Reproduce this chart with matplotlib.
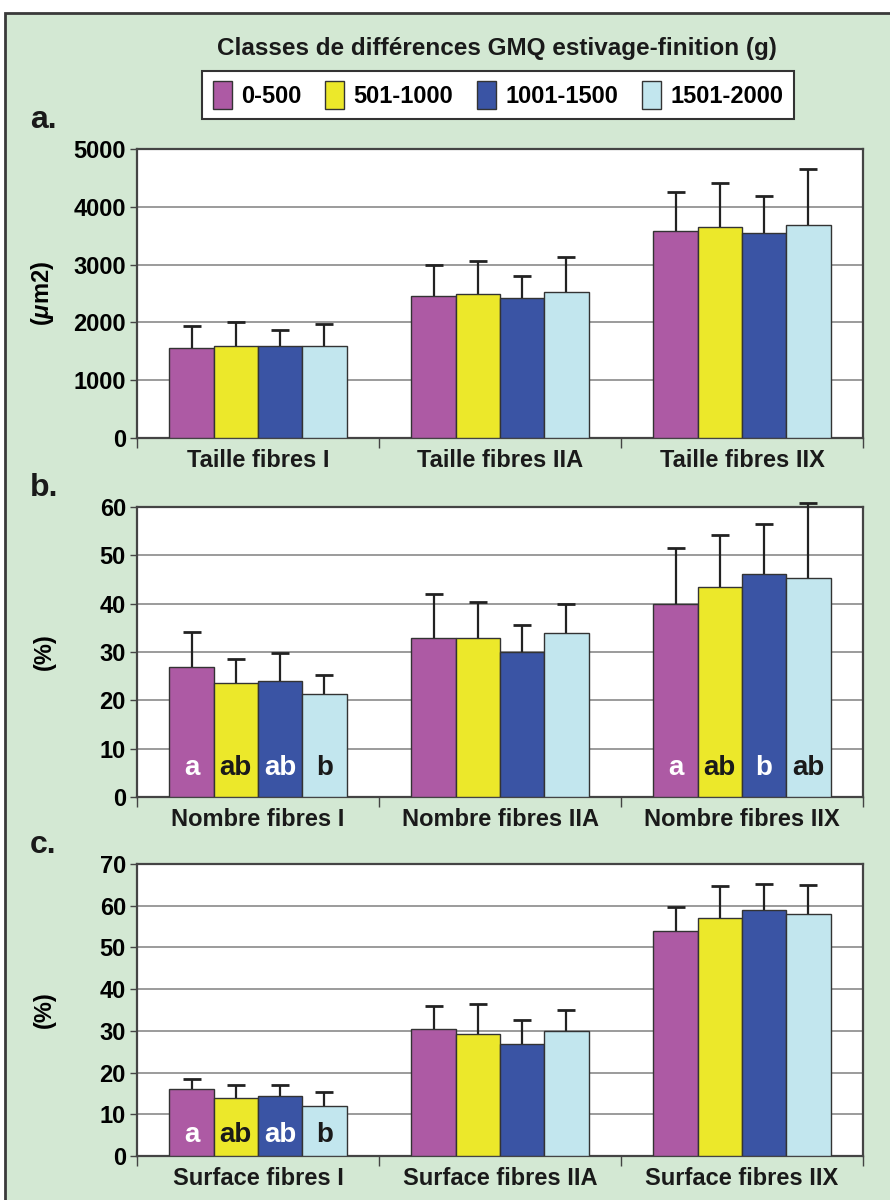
import numpy as np
import matplotlib.pyplot as plt
from matplotlib.patches import Rectangle, Patch

plt.rcParams['font.family'] = ['Liberation Sans', 'DejaVu Sans']
plt.rcParams['font.weight'] = 'bold'
plt.rcParams['mathtext.fontset'] = 'custom'
plt.rcParams['mathtext.it'] = 'Liberation Sans:italic:bold'

classes = ['0-500', '501-1000', '1001-1500', '1501-2000']
colors = ['#AD5AA4', '#ECE82A', '#3A54A4', '#C2E6EE']

# panel a: fibre size (um2)
taille_labels = ['Taille fibres I', 'Taille fibres IIA', 'Taille fibres IIX']
taille_mean = [[1560, 2460, 3580], [1600, 2500, 3650], [1600, 2420, 3540], [1600, 2530, 3690]]
taille_sd = [[370, 530, 670], [410, 560, 760], [260, 380, 640], [370, 610, 970]]

# panel b: fibre number (%)
nombre_labels = ['Nombre fibres I', 'Nombre fibres IIA', 'Nombre fibres IIX']
nombre_mean = [[27.0, 33.0, 40.0], [23.5, 33.0, 43.5], [24.0, 30.0, 46.2], [21.3, 34.0, 45.3]]
nombre_sd = [[7.2, 9.1, 11.6], [5.0, 7.4, 10.7], [5.8, 5.6, 10.2], [4.0, 6.0, 15.5]]
nombre_letters = [['a', '', 'a'], ['ab', '', 'ab'], ['ab', '', 'b'], ['b', '', 'ab']]

# panel c: fibre surface (%)
surface_labels = ['Surface fibres I', 'Surface fibres IIA', 'Surface fibres IIX']
surface_mean = [[16.0, 30.4, 54.0], [14.0, 29.3, 57.0], [14.5, 26.8, 59.0], [12.0, 30.0, 58.1]]
surface_sd = [[2.5, 5.6, 5.6], [3.0, 7.2, 7.8], [2.5, 5.7, 6.2], [3.4, 5.0, 6.8]]
surface_letters = [['a', '', ''], ['ab', '', ''], ['ab', '', ''], ['b', '', '']]

letter_colors = ['white', '#1a1a1a', 'white', '#1a1a1a']

W, H = 890, 1200
fig = plt.figure(figsize=(W / 100, H / 100), dpi=100)
fig.patch.set_facecolor('white')
fig.patches.append(Rectangle((5 / W, -0.01), 1.0, 1 - 13 / H + 0.01, transform=fig.transFigure,
                             facecolor='#D3E8D3', edgecolor='#3a3a3a', lw=2, zorder=-5))


def px_axes(left, top, right, bottom):
    return fig.add_axes([left / W, 1 - bottom / H, (right - left) / W, (bottom - top) / H])


def draw_panel(ax, labels, means, sds, ymax, ystep, ylabel, letters=None, letter_y=None):
    x = np.arange(len(labels))
    w = 0.183
    for i in range(4):
        xs = x + (i - 1.5) * w
        tops = np.array(means[i]) + np.array(sds[i])
        ax.bar(xs, means[i], width=w, color=colors[i], edgecolor='#333333', lw=1, zorder=3)
        # upper half of the error bar only, with a cap
        ax.vlines(xs, means[i], tops, color='#222222', lw=1.6, zorder=4, clip_on=False)
        ax.plot(xs, tops, ls='none', marker='_', ms=13, mew=2, color='#222222', zorder=4,
                clip_on=False)
        if letters:
            for j, t in enumerate(letters[i]):
                if t:
                    ax.text(xs[j], letter_y, t, ha='center', va='center', fontsize=20,
                            fontweight='bold', color=letter_colors[i], zorder=5)
    ax.set_xlim(-0.5, len(labels) - 0.5)
    ax.set_ylim(0, ymax)
    ax.set_yticks(np.arange(0, ymax + ystep / 2, ystep))
    ax.yaxis.grid(True, color='#8a8a8a', lw=1.2, zorder=1)
    ax.set_axisbelow(True)
    ax.set_xticks(x)
    ax.set_xticklabels(labels, fontsize=17, fontweight='bold', color='#1a1a1a')
    ax.set_xticks(np.arange(-0.5, len(labels)), minor=True)
    ax.tick_params(axis='x', which='major', length=0, pad=8)
    ax.tick_params(axis='x', which='minor', length=7, width=1, color='#444444')
    ax.tick_params(axis='y', length=5, width=1, color='#444444', labelsize=17, pad=3)
    for lab in ax.get_yticklabels():
        lab.set_fontweight('bold')
    for s in ax.spines.values():
        s.set_color('#444444')
        s.set_linewidth(1.6)
    ax.set_ylabel(ylabel, fontsize=17, fontweight='bold')
    ax.yaxis.set_label_coords((56 - 137) / 726, 0.5)


ax_a = px_axes(137, 149, 863, 438)
draw_panel(ax_a, taille_labels, taille_mean, taille_sd, 5000, 1000, r'($\mu$m2)')
ax_b = px_axes(137, 507, 863, 797)
draw_panel(ax_b, nombre_labels, nombre_mean, nombre_sd, 60, 10, '(%)', nombre_letters, 6.0)
ax_c = px_axes(137, 864, 863, 1156)
draw_panel(ax_c, surface_labels, surface_mean, surface_sd, 70, 10, '(%)', surface_letters, 5.0)

for lab, ypx in [('a.', 120), ('b.', 488), ('c.', 845)]:
    fig.text(30 / W, 1 - ypx / H, lab, fontsize=23, fontweight='bold', color='#1a1a1a',
             ha='left', va='center')

fig.text(497 / W, 1 - 48 / H, 'Classes de différences GMQ estivage-finition (g)',
         fontsize=17.5, fontweight='bold', ha='center', va='center', color='#1a1a1a')

handles = [Patch(facecolor=c, edgecolor='#333333', lw=1) for c in colors]
leg = fig.legend(handles, classes, loc='center', bbox_to_anchor=(498 / W, 1 - 95 / H), ncol=4,
                 fontsize=17, frameon=True, fancybox=False, edgecolor='#333333', framealpha=1,
                 facecolor='white', handlelength=0.8, handleheight=1.4, handletextpad=0.4,
                 columnspacing=1.0, borderpad=0.45)
leg.get_frame().set_linewidth(1.5)
for t in leg.get_texts():
    t.set_fontweight('bold')

fig.savefig('out.png', dpi=100)
